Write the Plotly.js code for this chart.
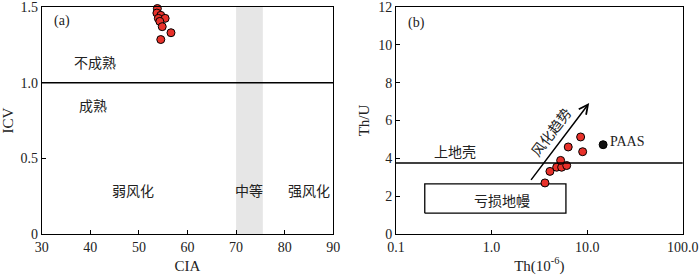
<!DOCTYPE html>
<html><head><meta charset="utf-8">
<script src="https://cdn.plot.ly/plotly-3.0.1.min.js"></script>
<style>html,body{margin:0;padding:0;background:#fff}#c{width:700px;height:276px}</style>
</head><body><div id="c"></div>
<script>
// Panel (a): CIA vs ICV
const ciaVals = [53.8, 53.7, 54.5, 54.0, 55.4, 54.3, 54.8, 56.6, 54.5];
const icvVals = [1.49, 1.46, 1.445, 1.425, 1.425, 1.405, 1.37, 1.33, 1.285];
const moderateBand = [70, 75.5];
const icvBoundary = 1.0;
// Panel (b): Th vs Th/U
const thVals = [3.62, 4.08, 4.80, 5.41, 6.11, 5.28, 6.34, 8.55, 8.98];
const thuVals = [2.70, 3.31, 3.53, 3.53, 3.62, 3.89, 4.60, 5.13, 4.35];
const paasTh = [14.7];
const paasThU = [4.72];
const upperCrustThU = 3.75;
const mantleBoxTh = [0.2, 6, 6, 0.2, 0.2];
const mantleBoxThU = [1.1, 1.1, 2.65, 2.65, 1.1];
const trendStart = [2.52, 2.78];
const trendEnd = [10.5, 6.92];
const xTicksA = [30, 40, 50, 60, 70, 80, 90];
const yTickValsA = [0, 0.5, 1.0, 1.5];
const yTickTextA = ['0', '0.5', '1.0', '1.5'];
const xTickValsB = [0.1, 1, 10, 100];
const xTickTextB = ['0.1', '1.0', '10.0', '100.0'];
const yTicksB = [0, 2, 4, 6, 8, 10, 12];

const serif = 'Liberation Serif, Times New Roman, serif';
const cjk = 'Noto Sans CJK SC, sans-serif';
const red = '#e8312a';

const traces = [
  {x: ciaVals, y: icvVals, xaxis: 'x', yaxis: 'y', mode: 'markers', type: 'scatter',
   marker: {color: red, size: 8, line: {color: '#000', width: 1}}, cliponaxis: false, hoverinfo: 'skip'},
  {x: mantleBoxTh, y: mantleBoxThU, xaxis: 'x2', yaxis: 'y2', mode: 'lines', type: 'scatter',
   line: {color: '#000', width: 1.3}, hoverinfo: 'skip'},
  {x: thVals, y: thuVals, xaxis: 'x2', yaxis: 'y2', mode: 'markers', type: 'scatter',
   marker: {color: red, size: 8, line: {color: '#000', width: 1}}, hoverinfo: 'skip'},
  {x: paasTh, y: paasThU, xaxis: 'x2', yaxis: 'y2', mode: 'markers', type: 'scatter',
   marker: {color: '#111', size: 8, line: {color: '#000', width: 1}}, hoverinfo: 'skip'}
];

const axBase = {showgrid: false, zeroline: false, showline: true, mirror: true, linecolor: '#000', linewidth: 1,
  ticks: 'inside', ticklen: 4, tickcolor: '#000', automargin: false, ticklabeloverflow: 'allow',
  tickfont: {family: serif, size: 14, color: '#222'}};

const layout = {
  width: 700, height: 276, showlegend: false,
  margin: {l: 0, r: 0, t: 7, b: 42},
  paper_bgcolor: '#fff', plot_bgcolor: '#fff',
  xaxis: Object.assign({}, axBase, {domain: [41.7/700, 333.3/700], range: [30, 90], tickvals: xTicksA,
    anchor: 'y', title: {text: 'CIA', font: {family: serif, size: 15, color: '#222'}, standoff: 6}}),
  yaxis: Object.assign({}, axBase, {domain: [0, 1], range: [0, 1.5], tickvals: yTickValsA, ticktext: yTickTextA,
    anchor: 'x', title: {text: 'ICV', font: {family: serif, size: 15, color: '#222'}, standoff: 4}}),
  xaxis2: Object.assign({}, axBase, {domain: [396/700, 682.7/700], type: 'log', range: [-1, 2],
    tickvals: xTickValsB, ticktext: xTickTextB, anchor: 'y2',
    title: {text: 'Th(10<sup>-6</sup>)', font: {family: serif, size: 15, color: '#222'}, standoff: 6}}),
  yaxis2: Object.assign({}, axBase, {domain: [0, 1], range: [0, 12], tickvals: yTicksB, anchor: 'x2',
    title: {text: 'Th/U', font: {family: serif, size: 15, color: '#222'}, standoff: 4}}),
  shapes: [
    {type: 'rect', xref: 'x', yref: 'y', x0: moderateBand[0], x1: moderateBand[1], y0: 0, y1: 1.5,
     fillcolor: '#e6e6e6', line: {width: 0}, layer: 'below'},
    {type: 'line', xref: 'x domain', yref: 'y', x0: 0, x1: 1, y0: icvBoundary, y1: icvBoundary,
     line: {color: '#000', width: 1.5}},
    {type: 'line', xref: 'x2 domain', yref: 'y2', x0: 0, x1: 1, y0: upperCrustThU, y1: upperCrustThU,
     line: {color: '#000', width: 1.5}}
  ],
  annotations: [
    {xref: 'x', yref: 'y', x: 34.2, y: 1.41, text: '(a)', showarrow: false, font: {family: serif, size: 14, color: '#222'}},
    {xref: 'x', yref: 'y', x: 41, y: 1.135, text: '不成熟', showarrow: false, font: {family: cjk, size: 14, color: '#222'}},
    {xref: 'x', yref: 'y', x: 40.6, y: 0.85, text: '成熟', showarrow: false, font: {family: cjk, size: 14, color: '#222'}},
    {xref: 'x', yref: 'y', x: 48.7, y: 0.29, text: '弱风化', showarrow: false, font: {family: cjk, size: 14, color: '#222'}},
    {xref: 'x', yref: 'y', x: 72.7, y: 0.29, text: '中等', showarrow: false, font: {family: cjk, size: 14, color: '#222'}},
    {xref: 'x', yref: 'y', x: 84.9, y: 0.29, text: '强风化', showarrow: false, font: {family: cjk, size: 14, color: '#222'}},
    {xref: 'x2', yref: 'y2', x: Math.log10(0.165), y: 11.15, text: '(b)', showarrow: false, font: {family: serif, size: 14, color: '#222'}},
    {xref: 'x2', yref: 'y2', x: Math.log10(0.414), y: 4.37, text: '上地壳', showarrow: false, font: {family: cjk, size: 14, color: '#222'}},
    {xref: 'x2', yref: 'y2', x: Math.log10(1.28), y: 1.78, text: '亏损地幔', showarrow: false, font: {family: cjk, size: 14, color: '#222'}},
    {xref: 'x2', yref: 'y2', x: Math.log10(paasTh[0]), y: paasThU[0], xanchor: 'left', xshift: 5, yshift: 3, text: 'PAAS', showarrow: false, font: {family: serif, size: 14, color: '#222'}},
    {xref: 'x2', yref: 'y2', x: Math.log10(4.15), y: 5.37, text: '风化趋势', textangle: -53, showarrow: false, font: {family: cjk, size: 14, color: '#222'}},
    {xref: 'x2', yref: 'y2', axref: 'x2', ayref: 'y2', x: Math.log10(trendEnd[0]), y: trendEnd[1],
     ax: Math.log10(trendStart[0]), ay: trendStart[1], text: '', showarrow: true, arrowhead: 5, arrowsize: 1.2,
     arrowwidth: 1.5, arrowcolor: '#000'}
  ]
};

Plotly.newPlot('c', traces, layout, {staticPlot: true, displayModeBar: false});
</script>
</body></html>
